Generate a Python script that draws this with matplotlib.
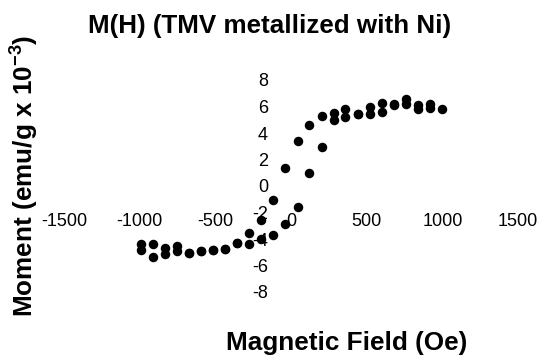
import matplotlib
matplotlib.use("Agg")
import matplotlib.pyplot as plt
import numpy as np

# descending-field branch (upper loop)
field_down = [1000, 920, 840, 760, 680, 600, 520, 440, 360, 285, 205, 120, 45,
              -40, -118, -195, -275, -355, -435, -515, -595, -675, -755, -835, -912, -990]
moment_down = [5.8, 6.2, 6.15, 6.55, 6.2, 6.25, 6.0, 5.45, 5.8, 5.5, 5.3, 4.6, 3.4,
               1.35, -1.05, -2.6, -3.55, -4.3, -4.75, -4.85, -4.9, -5.05, -4.5, -4.7, -4.4, -4.4]

# ascending-field branch (lower loop)
field_up = [-990, -912, -835, -755, -675, -595, -515, -435, -355, -275, -195, -118, -40,
            45, 120, 205, 285, 360, 440, 520, 600, 680, 760, 840, 920]
moment_up = [-4.8, -5.35, -5.15, -4.9, -5.05, -4.9, -4.85, -4.75, -4.3, -4.4, -4.0, -3.7, -2.88,
             -1.6, 0.95, 2.95, 4.95, 5.2, 5.45, 5.4, 5.55, 6.1, 6.2, 5.8, 5.9]

x_ticks = [-1500, -1000, -500, 0, 500, 1000, 1500]
y_ticks = [-8, -6, -4, -2, 0, 2, 4, 6, 8]

plt.rcParams['font.family'] = ['Liberation Sans', 'DejaVu Sans']
plt.rcParams['mathtext.fontset'] = 'custom'
plt.rcParams['mathtext.rm'] = 'Liberation Sans'
plt.rcParams['mathtext.bf'] = 'Liberation Sans:bold'

fig = plt.figure(figsize=(5.42, 3.58), dpi=100)
ax = fig.add_axes([64 / 542, 66 / 358, 454 / 542, 212 / 358])

ax.scatter(field_down, moment_down, s=34, color='black', zorder=3)
ax.scatter(field_up, moment_up, s=34, color='black', zorder=3)

ax.set_xlim(-1500, 1500)
ax.set_ylim(-8, 8)
ax.set_xticks(x_ticks)
ax.set_yticks(y_ticks)
ax.set_xticklabels([str(v) for v in x_ticks])
ax.set_yticklabels([str(v) for v in y_ticks])

for side in ['top', 'right', 'left', 'bottom']:
    ax.spines[side].set_visible(False)
ax.tick_params(axis='x', length=0, pad=19.5, labelsize=13)
ax.tick_params(axis='y', length=0, pad=16.5, labelsize=13)
# axes cross at the origin, Excel style
ax.spines['left'].set_position(('data', 0))
ax.spines['bottom'].set_position(('data', 0))

fig.text(270 / 542, 1 - 33 / 358, "M(H) (TMV metallized with Ni)", ha='center', va='baseline',
         fontsize=18.7, fontweight='bold')
fig.text(347 / 542, 8 / 358, "Magnetic Field (Oe)", ha='center', va='baseline',
         fontsize=18.8, fontweight='bold')
fig.text(24 / 542, 1 - 176 / 358, r"Moment (emu/g x 10$^{\mathbf{-3}}$)", ha='center', va='center',
         rotation=90, fontsize=18.8, fontweight='bold')

fig.savefig("out.png", dpi=100)
